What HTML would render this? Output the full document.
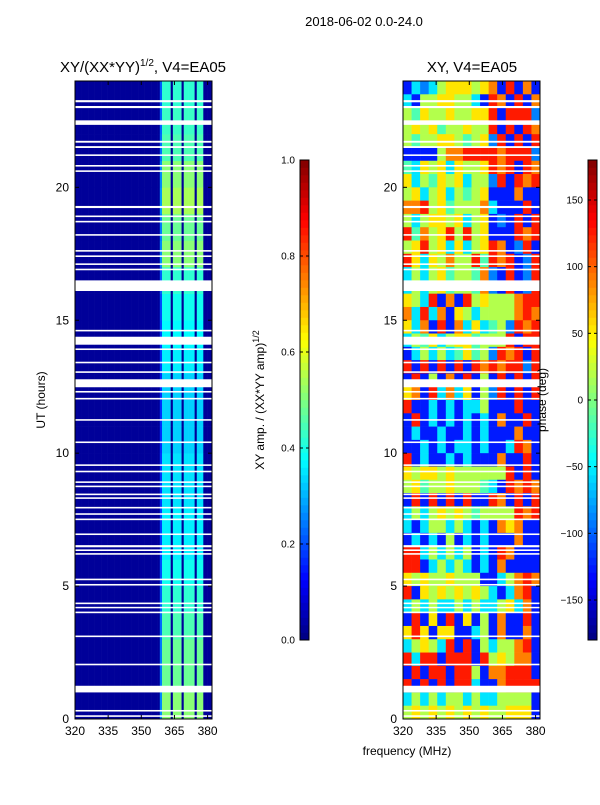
<!DOCTYPE html>
<html><head><meta charset="utf-8">
<style>
body{margin:0;background:#fff;width:600px;height:800px;overflow:hidden;font-family:"Liberation Sans",sans-serif}
svg text{font-family:"Liberation Sans",sans-serif}
</style></head>
<body>
<svg id="fig" width="600" height="800" xmlns="http://www.w3.org/2000/svg">
<text x="364" y="26" font-size="13" text-anchor="middle">2018-06-02 0.0-24.0</text>
<text x="143" y="72" font-size="15" text-anchor="middle">XY/(XX*YY)<tspan font-size="10" dy="-6">1/2</tspan><tspan dy="6">, V4=EA05</tspan></text>
<text x="472" y="72" font-size="15" text-anchor="middle">XY, V4=EA05</text>
<text x="407" y="755" font-size="12" text-anchor="middle">frequency (MHz)</text>
<text x="45" y="400" font-size="12" text-anchor="middle" transform="rotate(-90 45 400)">UT (hours)</text>
<text x="264" y="400" font-size="12" text-anchor="middle" transform="rotate(-90 264 400)">XY amp. / (XX*YY amp)<tspan font-size="9" dy="-5">1/2</tspan></text>
<g id="left"></g>
<g id="right"></g>
<g id="cb1"></g>
<g id="cb2"></g>
<text x="546" y="400" font-size="12" text-anchor="middle" transform="rotate(-90 546 400)">phase (deg)</text>
</svg>
<script>
const ampProfile = "111111111111111111111111111111111111111366661666616666616661111";
const hourGain = [0.85,0.8,0.8,0.75,0.7,0.65,0.6,0.6,0.58,0.58,0.55,0.55,0.55,0.6,0.62,0.65,0.7,0.85,0.8,0.9,0.85,0.75,0.72,0.7];
const phaseRows = [
"1323566656718171","3155665531871817","5465565566818882","5656455655818187",
"5455665456281818","1111577888878882","4365636556878187","6354656355281878",
"5635635456111711","7785645557311181","5356656356121818","8475685856111878",
"5685636356871281","8636575584878128","3535645547218128","3535645547218128",
"6538171856555788","7383716535555787","6371817363452878","3546356645558188",
"1353534645287818","8181818187878828","1815171815181818","6718373615281818",
"8113131335111811","1813131313171181","1311311313111711","1131313313113871",
"8131131311171181","6566565555558181","5645565554318787","1818181811871818",
"3535656545555878","3135535313176711","1313151313111711","8835353513187111",
"8813535313171111","6565565551135787","8165656565313781","3535335353356371",
"1816181615171181","6861661135171171","3565381815355781","8388188818565771",
"1818818851778881","8181818831178888","3535355353355551","5656565656556661"];
const gaps = [[23.2,23.28],[22.98,23.06],[22.35,22.52],[21.68,21.75],[21.48,21.55],[21.18,21.24],[20.78,20.84],[20.58,20.64],[19.22,19.3],[18.88,18.94],[18.68,18.74],[18.18,18.24],[17.58,17.64],[17.38,17.44],[17.08,17.14],[16.88,16.94],[16.1,16.5],[14.58,14.64],[14.08,14.38],[13.88,13.94],[13.38,13.44],[13.02,13.08],[12.48,12.78],[12.28,12.34],[12.02,12.08],[11.22,11.28],[10.38,10.44],[9.52,9.58],[9.28,9.34],[8.88,8.94],[8.72,8.78],[8.42,8.48],[8.28,8.34],[7.92,7.98],[7.68,7.74],[7.48,7.54],[6.92,6.98],[6.46,6.54],[6.32,6.38],[6.18,6.24],[5.22,5.28],[5.02,5.08],[4.32,4.38],[4.18,4.22],[3.98,4.04],[3.08,3.14],[2.02,2.08],[1.0,1.25],[0.28,0.34],[0.08,0.14]];
const xTicks = [320,335,350,365,380];
const yTicks = [0,5,10,15,20];
const ampTicks = [0,0.2,0.4,0.6,0.8,1.0];
const phaseTicks = [-150,-100,-50,0,50,100,150];

const NS="http://www.w3.org/2000/svg";
function jet(t){t=Math.max(0,Math.min(1,t));
 const c=v=>Math.round(255*Math.max(0,Math.min(1,v)));
 return `rgb(${c(1.5-Math.abs(4*t-3))},${c(1.5-Math.abs(4*t-2))},${c(1.5-Math.abs(4*t-1))})`;}
function mk(tag,attrs,parent){const e=document.createElementNS(NS,tag);for(const k in attrs)e.setAttribute(k,attrs[k]);parent.appendChild(e);return e;}
const PT=81,PB=719,FMIN=320,FMAX=382;
function yOf(ut){return PB-(ut/24)*(PB-PT);}
function panel(g,x0,x1,isPhase){
 const xOf=f=>x0+(f-FMIN)/(FMAX-FMIN)*(x1-x0);
 if(!isPhase){
  const n=ampProfile.length, df=(FMAX-FMIN)/n;
  for(let h=0;h<24;h++)for(let c=0;c<n;c++){
   const v=ampProfile[c]==="1"?0.025:Math.min(1,(+ampProfile[c]/10)*hourGain[h]);
   const r=mk('rect',{x:xOf(FMIN+c*df),y:yOf(h+1),width:(x1-x0)/n+0.3,height:yOf(h)-yOf(h+1)+0.3,fill:jet(v)},g);
   
   
  }
 } else {
  const nr=phaseRows.length;
  phaseRows.forEach((row,i)=>{
   const n=row.length, df=(FMAX-FMIN)/n, ut1=24-i*24/nr, ut0=ut1-24/nr;
   for(let c=0;c<n;c++){
    const ph=-162+(+row[c])*36;
    const r=mk('rect',{x:xOf(FMIN+c*df),y:yOf(ut1),width:(x1-x0)/n+0.3,height:yOf(ut0)-yOf(ut1)+0.3,fill:jet((ph+180)/360)},g);
    
    
   }
  });
 }
 gaps.forEach(gp=>{const r=mk('rect',{x:x0,y:yOf(gp[1]),width:x1-x0,height:Math.max(1.5,yOf(gp[0])-yOf(gp[1])),fill:'#fff'},g);
  
  });
 const fr=mk('rect',{x:x0,y:PT,width:x1-x0,height:PB-PT,fill:'none',stroke:'#000','stroke-width':1},g);
 
 
 xTicks.forEach(t=>{const x=xOf(t);
  mk('line',{x1:x,x2:x,y1:PB,y2:PB-4,stroke:'#000'},g);mk('line',{x1:x,x2:x,y1:PT,y2:PT+4,stroke:'#000'},g);
  const tx=mk('text',{x:x,y:PB+16,'font-size':12,'text-anchor':'middle'},g);tx.textContent=t;
  
  });
 yTicks.forEach(t=>{const y=yOf(t);
  mk('line',{x1:x0,x2:x0+4,y1:y,y2:y,stroke:'#000'},g);mk('line',{x1:x1,x2:x1-4,y1:y,y2:y,stroke:'#000'},g);
  const tx=mk('text',{x:x0-6,y:y+4,'font-size':12,'text-anchor':'end'},g);tx.textContent=t;
  
  });
}
panel(document.getElementById('left'),75,212,false);
panel(document.getElementById('right'),403,540,true);
function colorbar(g,x,ticks,vmin,vmax,fmt){
 const T=160,B=640,n=64;
 for(let i=0;i<n;i++){const r=mk('rect',{x:x,y:B-(i+1)*(B-T)/n,width:9,height:(B-T)/n+0.3,fill:jet((i+0.5)/n)},g);
  
  }
 mk('rect',{x:x,y:T,width:9,height:B-T,fill:'none',stroke:'#000'},g);
 ticks.forEach(t=>{const y=B-(t-vmin)/(vmax-vmin)*(B-T);
  mk('line',{x1:x,x2:x+3,y1:y,y2:y,stroke:'#000'},g);mk('line',{x1:x+9,x2:x+6,y1:y,y2:y,stroke:'#000'},g);
  const tx=mk('text',{x:x-5,y:y+3.5,'font-size':10,'text-anchor':'end'},g);tx.textContent=fmt(t);
  
  });
}
colorbar(document.getElementById('cb1'),300,ampTicks,0,1,t=>t.toFixed(1));
colorbar(document.getElementById('cb2'),588,phaseTicks,-180,180,t=>t<0?'\u2212'+(-t):''+t);
</script>
</body></html>
